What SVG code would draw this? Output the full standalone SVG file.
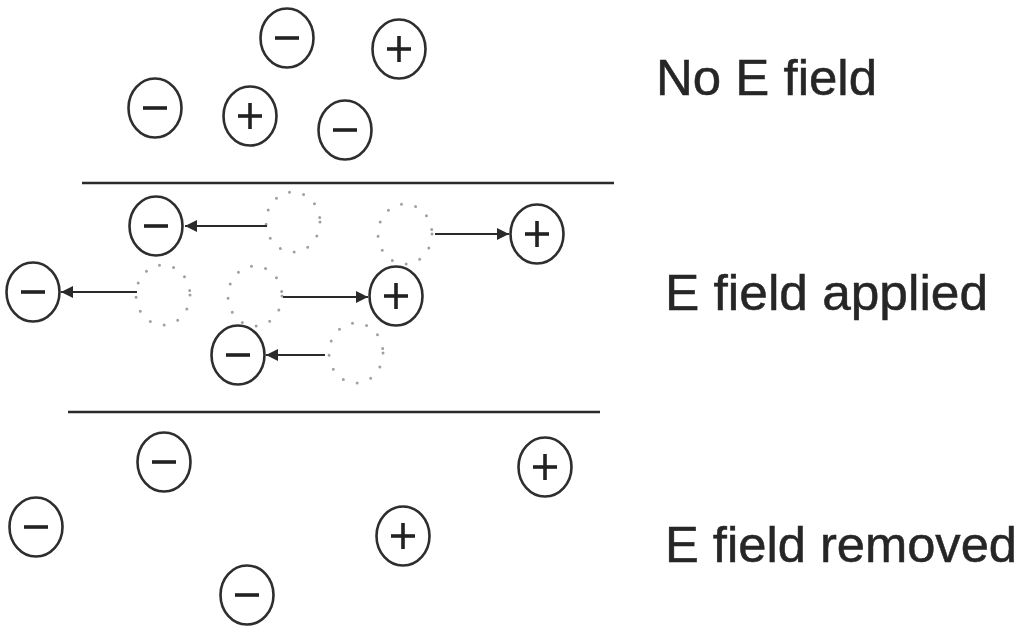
<svg xmlns="http://www.w3.org/2000/svg" width="1019" height="635" viewBox="0 0 1019 635">
  <style>
    .ion { fill: none; stroke: #2e2e2e; stroke-width: 2.6; }
    .sign { stroke: #222; stroke-width: 3.6; stroke-linecap: butt; fill: none; }
    .ghost { fill: none; stroke: #a0a0a0; stroke-width: 3; stroke-linecap: round; stroke-dasharray: 0 14.5; }
    .rule { stroke: #2a2a2a; stroke-width: 2.4; }
    .move { stroke: #2a2a2a; stroke-width: 2; fill: none; }
    .label { font-family: "Liberation Sans", Arial, sans-serif; font-size: 50px; fill: #262626; stroke: #262626; stroke-width: 0.5; }
  </style>
  <defs>
    <marker id="head" viewBox="0 0 10 10" refX="10" refY="5" markerWidth="7" markerHeight="6" markerUnits="strokeWidth" orient="auto">
      <path d="M0,0 L10,5 L0,10 Z" fill="#2a2a2a"/>
    </marker>
    <g id="neg">
      <ellipse class="ion" cx="0" cy="0" rx="26.5" ry="29.5"/>
      <line class="sign" x1="-12" y1="0" x2="12" y2="0"/>
    </g>
    <g id="pos">
      <ellipse class="ion" cx="0" cy="0" rx="26.5" ry="29.5"/>
      <line class="sign" x1="-12" y1="0" x2="12" y2="0"/>
      <line class="sign" x1="0" y1="-13" x2="0" y2="13"/>
    </g>
    <ellipse id="ghost" class="ghost" cx="0" cy="0" rx="27" ry="30"/>
  </defs>

  <!-- separators -->
  <g id="separators">
    <line class="rule" x1="82" y1="183" x2="614" y2="183"/>
    <line class="rule" x1="68" y1="412" x2="600" y2="412"/>
  </g>

  <!-- no field: random ions -->
  <g id="top-n1"><use href="#neg" x="287" y="38"/></g>
  <g id="top-p1"><use href="#pos" x="399" y="49"/></g>
  <g id="top-n2"><use href="#neg" x="155" y="108"/></g>
  <g id="top-p2"><use href="#pos" x="250" y="116"/></g>
  <g id="top-n3"><use href="#neg" x="345" y="130"/></g>

  <!-- applied field: original positions (dotted) and displaced ions -->
  <g id="mid-g1"><use href="#ghost" x="293" y="222"/></g>
  <g id="mid-g2"><use href="#ghost" x="405" y="234"/></g>
  <g id="mid-g3"><use href="#ghost" x="163" y="295"/></g>
  <g id="mid-g4"><use href="#ghost" x="255" y="296"/></g>
  <g id="mid-g5"><use href="#ghost" x="356" y="353"/></g>

  <g id="mid-n1"><use href="#neg" x="156" y="226"/></g>
  <g id="mid-p1"><use href="#pos" x="537" y="234"/></g>
  <g id="mid-n2"><use href="#neg" x="33" y="292"/></g>
  <g id="mid-p2"><use href="#pos" x="396" y="296"/></g>
  <g id="mid-n3"><use href="#neg" x="238" y="355"/></g>

  <g id="connectors">
    <line class="move" x1="267" y1="226" x2="185" y2="226" marker-end="url(#head)"/>
    <line class="move" x1="435" y1="234" x2="509" y2="234" marker-end="url(#head)"/>
    <line class="move" x1="137" y1="292" x2="61" y2="292" marker-end="url(#head)"/>
    <line class="move" x1="283" y1="297" x2="368" y2="297" marker-end="url(#head)"/>
    <line class="move" x1="325" y1="355" x2="266" y2="355" marker-end="url(#head)"/>
  </g>

  <!-- field removed: random ions -->
  <g id="bot-n1"><use href="#neg" x="164" y="462"/></g>
  <g id="bot-p1"><use href="#pos" x="545" y="467"/></g>
  <g id="bot-n2"><use href="#neg" x="36" y="527"/></g>
  <g id="bot-p2"><use href="#pos" x="403" y="536"/></g>
  <g id="bot-n3"><use href="#neg" x="247" y="595"/></g>

  <!-- labels -->
  <g id="labels">
    <text class="label" x="656" y="95" textLength="221" lengthAdjust="spacingAndGlyphs">No E field</text>
    <text class="label" x="665" y="310" textLength="323" lengthAdjust="spacingAndGlyphs">E field applied</text>
    <text class="label" x="665" y="562" textLength="352" lengthAdjust="spacingAndGlyphs">E field removed</text>
  </g>
</svg>
